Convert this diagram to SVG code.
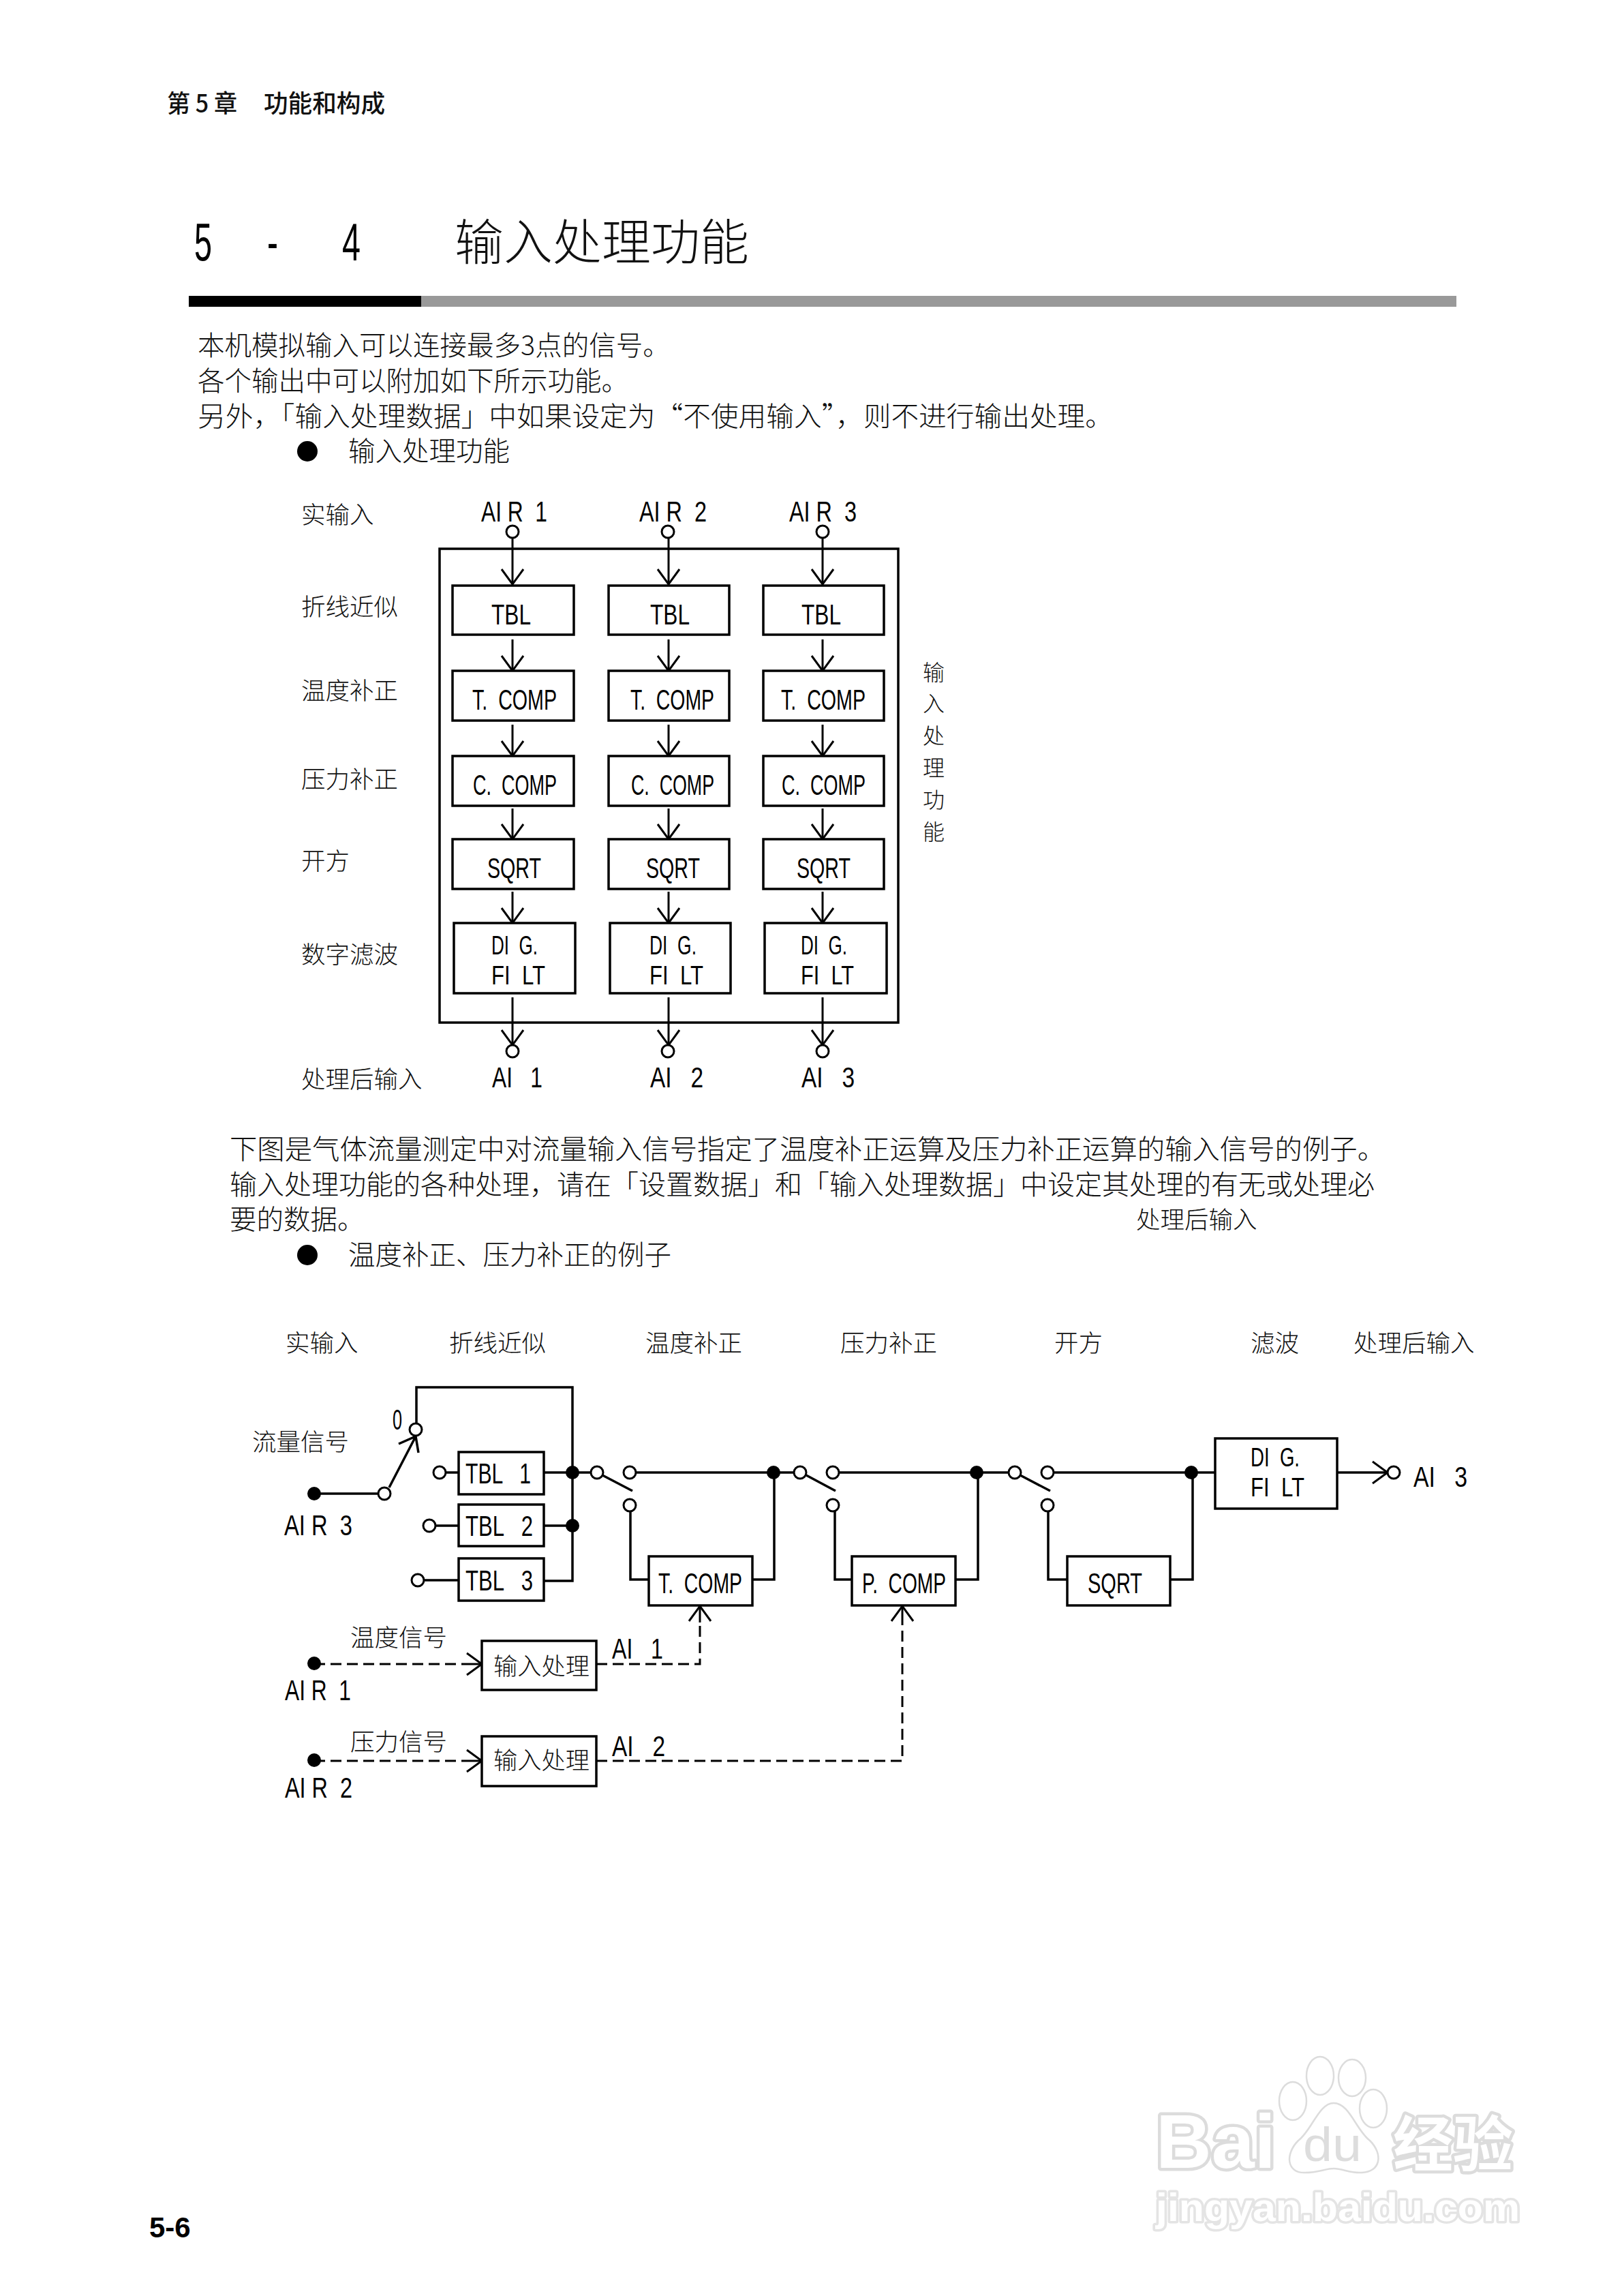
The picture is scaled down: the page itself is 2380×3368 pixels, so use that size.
<svg xmlns="http://www.w3.org/2000/svg" width="2380" height="3368" viewBox="0 0 2380 3368">
<style>
text{white-space:pre}
.c{font-family:"Noto Sans CJK SC","Noto Sans CJK JP",sans-serif;font-weight:300;fill:#111}
.b{font-size:39.5px}
.s{font-size:35.5px}
.v{font-size:32px}
.l{font-family:"Liberation Sans",Arial,sans-serif;font-size:42px;fill:#000}
.l2{font-size:38px}
.box{fill:#fff;stroke:#000;stroke-width:3.5}
.w{fill:none;stroke:#000;stroke-width:3}
.wt{fill:none;stroke:#000;stroke-width:3.5}
.d{fill:none;stroke:#000;stroke-width:3;stroke-dasharray:16 8}
.o{fill:#fff;stroke:#000;stroke-width:3}
.k{fill:#000}
.wm{fill:#fff;stroke:#dcdcdc;stroke-width:9;paint-order:stroke;stroke-linejoin:round;font-family:"Liberation Sans",Arial,sans-serif;font-weight:bold}
</style>
<defs>
<marker id="a" markerUnits="userSpaceOnUse" markerWidth="30" markerHeight="40" refX="25" refY="20" orient="auto" overflow="visible">
<path d="M3,4 L25,20 L3,36" fill="none" stroke="#000" stroke-width="3"/>
</marker>
</defs>
<rect width="2380" height="3368" fill="#fff"/>

<g id="page-text">
<text class="c" x="245" y="165" font-size="36" style="font-weight:500" textLength="103" lengthAdjust="spacingAndGlyphs">第 5 章</text>
<text class="c" x="387" y="165" font-size="36" style="font-weight:500" textLength="178" lengthAdjust="spacingAndGlyphs">功能和构成</text>
<text class="l" x="285" y="382" style="font-size:78px" textLength="26" lengthAdjust="spacingAndGlyphs">5</text>
<text class="l" x="392" y="382" style="font-size:78px" textLength="16" lengthAdjust="spacingAndGlyphs">-</text>
<text class="l" x="502" y="382" style="font-size:78px" textLength="27" lengthAdjust="spacingAndGlyphs">4</text>
<text class="c" x="667" y="381" font-size="72">输入处理功能</text>
<rect x="277" y="434" width="341" height="16" fill="#000"/>
<rect x="618" y="434" width="1519" height="16" fill="#999"/>
<text class="c b" x="290" y="521">本机模拟输入可以连接最多3点的信号。</text>
<text class="c b" x="290" y="573">各个输出中可以附加如下所示功能。</text>
<text class="c b" x="290" y="625" textLength="1343" lengthAdjust="spacingAndGlyphs">另外&#xFF0C;「输入处理数据」中如果设定为“不使用输入”&#xFF0C;则不进行输出处理。</text>
<circle class="k" cx="451" cy="662" r="15"/>
<text class="c b" x="511" y="676">输入处理功能</text>
<text class="c b" x="337" y="1700" textLength="1695" lengthAdjust="spacingAndGlyphs">下图是气体流量测定中对流量输入信号指定了温度补正运算及压力补正运算的输入信号的例子。</text>
<text class="c b" x="337" y="1752" textLength="1680" lengthAdjust="spacingAndGlyphs">输入处理功能的各种处理&#xFF0C;请在「设置数据」和「输入处理数据」中设定其处理的有无或处理必</text>
<text class="c b" x="337" y="1803">要的数据。</text>
<text class="c s" x="1667" y="1802">处理后输入</text>
<circle class="k" cx="451" cy="1841" r="15"/>
<text class="c b" x="511" y="1855">温度补正、压力补正的例子</text>
<text x="219" y="3282" font-family="'Liberation Sans',Arial,sans-serif" font-weight="bold" font-size="42" fill="#000">5-6</text>
</g>

<g id="fig1-labels">
<text class="c s" x="442" y="768">实输入</text>
<text class="c s" x="442" y="903">折线近似</text>
<text class="c s" x="442" y="1026">温度补正</text>
<text class="c s" x="442" y="1156">压力补正</text>
<text class="c s" x="442" y="1276">开方</text>
<text class="c s" x="442" y="1413">数字滤波</text>
<text class="c s" x="442" y="1596">处理后输入</text>
<text class="c v" x="1354" y="998">输</text>
<text class="c v" x="1354" y="1044">入</text>
<text class="c v" x="1354" y="1091">处</text>
<text class="c v" x="1354" y="1138">理</text>
<text class="c v" x="1354" y="1185">功</text>
<text class="c v" x="1354" y="1232">能</text>
<text class="l" x="706" y="765" textLength="97" lengthAdjust="spacingAndGlyphs">AI R  1</text>
<text class="l" x="938" y="765" textLength="99" lengthAdjust="spacingAndGlyphs">AI R  2</text>
<text class="l" x="1158" y="765" textLength="99" lengthAdjust="spacingAndGlyphs">AI R  3</text>
<text class="l" x="722" y="1595" textLength="74" lengthAdjust="spacingAndGlyphs">AI   1</text>
<text class="l" x="954" y="1595" textLength="78" lengthAdjust="spacingAndGlyphs">AI   2</text>
<text class="l" x="1176" y="1595" textLength="78" lengthAdjust="spacingAndGlyphs">AI   3</text>
</g>

<g id="frame"><rect x="645" y="805" width="673" height="695" fill="none" stroke="#000" stroke-width="3.5"/></g>

<g id="connectors">
<g id="fig1-connectors">
<path class="w" marker-end="url(#a)" d="M752,789V857"/><path class="w" marker-end="url(#a)" d="M981,789V857"/><path class="w" marker-end="url(#a)" d="M1207,789V857"/>
<path class="w" marker-end="url(#a)" d="M752,938V984"/><path class="w" marker-end="url(#a)" d="M981,938V984"/><path class="w" marker-end="url(#a)" d="M1207,938V984"/>
<path class="w" marker-end="url(#a)" d="M752,1063V1109"/><path class="w" marker-end="url(#a)" d="M981,1063V1109"/><path class="w" marker-end="url(#a)" d="M1207,1063V1109"/>
<path class="w" marker-end="url(#a)" d="M752,1186V1231"/><path class="w" marker-end="url(#a)" d="M981,1186V1231"/><path class="w" marker-end="url(#a)" d="M1207,1186V1231"/>
<path class="w" marker-end="url(#a)" d="M752,1308V1354"/><path class="w" marker-end="url(#a)" d="M981,1308V1354"/><path class="w" marker-end="url(#a)" d="M1207,1308V1354"/>
<path class="w" marker-end="url(#a)" d="M752,1463V1533"/><path class="w" marker-end="url(#a)" d="M981,1463V1533"/><path class="w" marker-end="url(#a)" d="M1207,1463V1533"/>
</g>
<g id="fig2-connectors">
<path class="wt" d="M461,2191H564"/>
<path class="wt" d="M571,2182L610,2107M585,2118L610,2107L614,2131"/>
<path class="wt" d="M611,2088V2035H840V2319H798"/>
<path class="wt" d="M645,2160H673M798,2160H876"/>
<path class="wt" d="M630,2238H673M798,2238H840"/>
<path class="wt" d="M613,2318H673"/>
<path class="wt" d="M924,2160H1174"/>
<path class="wt" d="M884,2164L928,2187"/>
<path class="wt" d="M925,2217V2317H952"/>
<path class="wt" d="M1104,2317H1136V2160"/>
<path class="wt" d="M1222,2160H1489"/>
<path class="wt" d="M1183,2164L1226,2187"/>
<path class="wt" d="M1225,2217V2317H1250"/>
<path class="wt" d="M1402,2317H1435V2160"/>
<path class="wt" d="M1537,2160H1783"/>
<path class="wt" d="M1497,2164L1541,2187"/>
<path class="wt" d="M1538,2217V2317H1566"/>
<path class="wt" d="M1717,2317H1750V2160"/>
<path class="wt" marker-end="url(#a)" d="M1962,2160H2036"/>
<path class="d" d="M461,2441H682"/>
<path class="w" marker-end="url(#a)" d="M682,2441H707"/>
<path class="d" d="M875,2441H1027V2380"/>
<path class="w" marker-end="url(#a)" d="M1027,2380V2356"/>
<path class="d" d="M461,2583H682"/>
<path class="w" marker-end="url(#a)" d="M682,2583H707"/>
<path class="d" d="M875,2583H1324V2380"/>
<path class="w" marker-end="url(#a)" d="M1324,2380V2356"/>
</g>
</g>

<g id="fig1-ports">
<circle class="o" cx="752" cy="780" r="9"/><circle class="o" cx="980" cy="780" r="9"/><circle class="o" cx="1207" cy="780" r="9"/>
<circle class="o" cx="752" cy="1542" r="9"/><circle class="o" cx="980" cy="1542" r="9"/><circle class="o" cx="1207" cy="1542" r="9"/>
</g>

<g id="tbl-c1"><rect class="box" x="664" y="859" width="178" height="72"/><text class="l" x="721" y="916" textLength="58" lengthAdjust="spacingAndGlyphs">TBL</text></g>
<g id="tbl-c2"><rect class="box" x="893" y="859" width="177" height="72"/><text class="l" x="954" y="916" textLength="58" lengthAdjust="spacingAndGlyphs">TBL</text></g>
<g id="tbl-c3"><rect class="box" x="1120" y="859" width="177" height="72"/><text class="l" x="1176" y="916" textLength="58" lengthAdjust="spacingAndGlyphs">TBL</text></g>
<g id="tcomp-c1"><rect class="box" x="664" y="984" width="178" height="73"/><text class="l" x="693" y="1041" textLength="124" lengthAdjust="spacingAndGlyphs">T.  COMP</text></g>
<g id="tcomp-c2"><rect class="box" x="893" y="984" width="177" height="73"/><text class="l" x="925" y="1041" textLength="123" lengthAdjust="spacingAndGlyphs">T.  COMP</text></g>
<g id="tcomp-c3"><rect class="box" x="1120" y="984" width="177" height="73"/><text class="l" x="1146" y="1041" textLength="124" lengthAdjust="spacingAndGlyphs">T.  COMP</text></g>
<g id="ccomp-c1"><rect class="box" x="664" y="1109" width="178" height="73"/><text class="l" x="694" y="1166" textLength="123" lengthAdjust="spacingAndGlyphs">C.  COMP</text></g>
<g id="ccomp-c2"><rect class="box" x="893" y="1109" width="177" height="73"/><text class="l" x="926" y="1166" textLength="122" lengthAdjust="spacingAndGlyphs">C.  COMP</text></g>
<g id="ccomp-c3"><rect class="box" x="1120" y="1109" width="177" height="73"/><text class="l" x="1147" y="1166" textLength="123" lengthAdjust="spacingAndGlyphs">C.  COMP</text></g>
<g id="sqrt-c1"><rect class="box" x="664" y="1231" width="178" height="73"/><text class="l" x="715" y="1288" textLength="79" lengthAdjust="spacingAndGlyphs">SQRT</text></g>
<g id="sqrt-c2"><rect class="box" x="893" y="1231" width="177" height="73"/><text class="l" x="948" y="1288" textLength="79" lengthAdjust="spacingAndGlyphs">SQRT</text></g>
<g id="sqrt-c3"><rect class="box" x="1120" y="1231" width="177" height="73"/><text class="l" x="1169" y="1288" textLength="79" lengthAdjust="spacingAndGlyphs">SQRT</text></g>
<g id="digfilt-c1"><rect class="box" x="666" y="1354" width="178" height="103"/><text class="l l2" x="721" y="1400" textLength="68" lengthAdjust="spacingAndGlyphs">DI  G.</text><text class="l l2" x="721" y="1444" textLength="79" lengthAdjust="spacingAndGlyphs">FI  LT</text></g>
<g id="digfilt-c2"><rect class="box" x="895" y="1354" width="177" height="103"/><text class="l l2" x="953" y="1400" textLength="69" lengthAdjust="spacingAndGlyphs">DI  G.</text><text class="l l2" x="953" y="1444" textLength="79" lengthAdjust="spacingAndGlyphs">FI  LT</text></g>
<g id="digfilt-c3"><rect class="box" x="1122" y="1354" width="179" height="103"/><text class="l l2" x="1175" y="1400" textLength="68" lengthAdjust="spacingAndGlyphs">DI  G.</text><text class="l l2" x="1175" y="1444" textLength="78" lengthAdjust="spacingAndGlyphs">FI  LT</text></g>

<g id="fig2-labels">
<text class="c s" x="419" y="1983">实输入</text>
<text class="c s" x="659" y="1983">折线近似</text>
<text class="c s" x="947" y="1983">温度补正</text>
<text class="c s" x="1233" y="1983">压力补正</text>
<text class="c s" x="1547" y="1983">开方</text>
<text class="c s" x="1835" y="1983">滤波</text>
<text class="c s" x="1986" y="1983">处理后输入</text>
<text class="c s" x="370" y="2128">流量信号</text>
<text class="c s" x="514" y="2415">温度信号</text>
<text class="c s" x="514" y="2568">压力信号</text>
<text class="l" x="417" y="2252" textLength="100" lengthAdjust="spacingAndGlyphs">AI R  3</text>
<text class="l" x="418" y="2494" textLength="97" lengthAdjust="spacingAndGlyphs">AI R  1</text>
<text class="l" x="418" y="2637" textLength="99" lengthAdjust="spacingAndGlyphs">AI R  2</text>
<text class="l" x="576" y="2097" textLength="14" lengthAdjust="spacingAndGlyphs">0</text>
<text class="l" x="898" y="2433" textLength="75" lengthAdjust="spacingAndGlyphs">AI   1</text>
<text class="l" x="898" y="2576" textLength="78" lengthAdjust="spacingAndGlyphs">AI   2</text>
<text class="l" x="2074" y="2181" textLength="79" lengthAdjust="spacingAndGlyphs">AI   3</text>
</g>

<g id="fig2-points">
<circle class="k" cx="461" cy="2191" r="10"/><circle class="k" cx="461" cy="2440" r="10"/><circle class="k" cx="461" cy="2582" r="10"/>
<circle class="k" cx="840" cy="2160" r="10"/><circle class="k" cx="840" cy="2238" r="10"/>
<circle class="k" cx="1135" cy="2160" r="10"/><circle class="k" cx="1433" cy="2160" r="10"/><circle class="k" cx="1748" cy="2160" r="10"/>
<circle class="o" cx="564" cy="2191" r="9"/><circle class="o" cx="610" cy="2097" r="9"/>
<circle class="o" cx="645" cy="2160" r="9"/><circle class="o" cx="630" cy="2238" r="9"/><circle class="o" cx="613" cy="2318" r="9"/>
<circle class="o" cx="876" cy="2160" r="9"/><circle class="o" cx="924" cy="2160" r="9"/><circle class="o" cx="924" cy="2208" r="9"/>
<circle class="o" cx="1174" cy="2160" r="9"/><circle class="o" cx="1222" cy="2160" r="9"/><circle class="o" cx="1222" cy="2208" r="9"/>
<circle class="o" cx="1489" cy="2160" r="9"/><circle class="o" cx="1537" cy="2160" r="9"/><circle class="o" cx="1537" cy="2208" r="9"/>
<circle class="o" cx="2045" cy="2160" r="9"/>
</g>

<g id="tbl1"><rect class="box" x="673" y="2130" width="125" height="62"/><text class="l" x="683" y="2176" textLength="96" lengthAdjust="spacingAndGlyphs">TBL   1</text></g>
<g id="tbl2"><rect class="box" x="673" y="2207" width="125" height="61"/><text class="l" x="683" y="2253" textLength="99" lengthAdjust="spacingAndGlyphs">TBL   2</text></g>
<g id="tbl3"><rect class="box" x="673" y="2286" width="125" height="62"/><text class="l" x="683" y="2333" textLength="99" lengthAdjust="spacingAndGlyphs">TBL   3</text></g>
<g id="tcomp"><rect class="box" x="952" y="2283" width="152" height="72"/><text class="l" x="966" y="2337" textLength="123" lengthAdjust="spacingAndGlyphs">T.  COMP</text></g>
<g id="pcomp"><rect class="box" x="1250" y="2283" width="152" height="72"/><text class="l" x="1265" y="2337" textLength="123" lengthAdjust="spacingAndGlyphs">P.  COMP</text></g>
<g id="sqrt"><rect class="box" x="1566" y="2283" width="151" height="72"/><text class="l" x="1596" y="2337" textLength="80" lengthAdjust="spacingAndGlyphs">SQRT</text></g>
<g id="digfilt"><rect class="box" x="1783" y="2110" width="179" height="103"/><text class="l l2" x="1835" y="2151" textLength="72" lengthAdjust="spacingAndGlyphs">DI  G.</text><text class="l l2" x="1835" y="2195" textLength="79" lengthAdjust="spacingAndGlyphs">FI  LT</text></g>
<g id="proc1"><rect class="box" x="707" y="2407" width="168" height="72"/><text class="c s" x="724" y="2457" textLength="141" lengthAdjust="spacingAndGlyphs">输入处理</text></g>
<g id="proc2"><rect class="box" x="707" y="2547" width="168" height="73"/><text class="c s" x="724" y="2595" textLength="141" lengthAdjust="spacingAndGlyphs">输入处理</text></g>

<g id="watermark">
<ellipse cx="1897" cy="3082" rx="20" ry="28" fill="#fff" stroke="#dcdcdc" stroke-width="2.5"/>
<ellipse cx="1937" cy="3045" rx="20" ry="28" fill="#fff" stroke="#dcdcdc" stroke-width="2.5"/>
<ellipse cx="1984" cy="3048" rx="20" ry="27" fill="#fff" stroke="#dcdcdc" stroke-width="2.5"/>
<ellipse cx="2015" cy="3093" rx="20" ry="28" fill="#fff" stroke="#dcdcdc" stroke-width="2.5"/>
<text class="wm" x="1696" y="3180" font-size="112" textLength="176" lengthAdjust="spacingAndGlyphs">Bai</text>
<path d="M1957,3085C1935,3085 1925,3125 1905,3140C1885,3160 1888,3188 1915,3187C1935,3187 1945,3181 1957,3181C1970,3181 1980,3188 1998,3187C2026,3186 2030,3160 2010,3140C1990,3125 1980,3085 1957,3085Z" fill="#fff" stroke="#dcdcdc" stroke-width="2.5"/>
<text x="1912" y="3170" font-size="70" font-family="'Liberation Sans',Arial,sans-serif" textLength="86" lengthAdjust="spacingAndGlyphs" fill="#ddd">du</text>
<text class="wm" x="2044" y="3177" style="font-family:'Noto Sans CJK SC',sans-serif" font-size="88">经验</text>
<text class="wm" x="1696" y="3258" font-size="58" textLength="534" lengthAdjust="spacingAndGlyphs" style="stroke:#e4e4e4;stroke-width:7">jingyan.baidu.com</text>
</g>
</svg>
